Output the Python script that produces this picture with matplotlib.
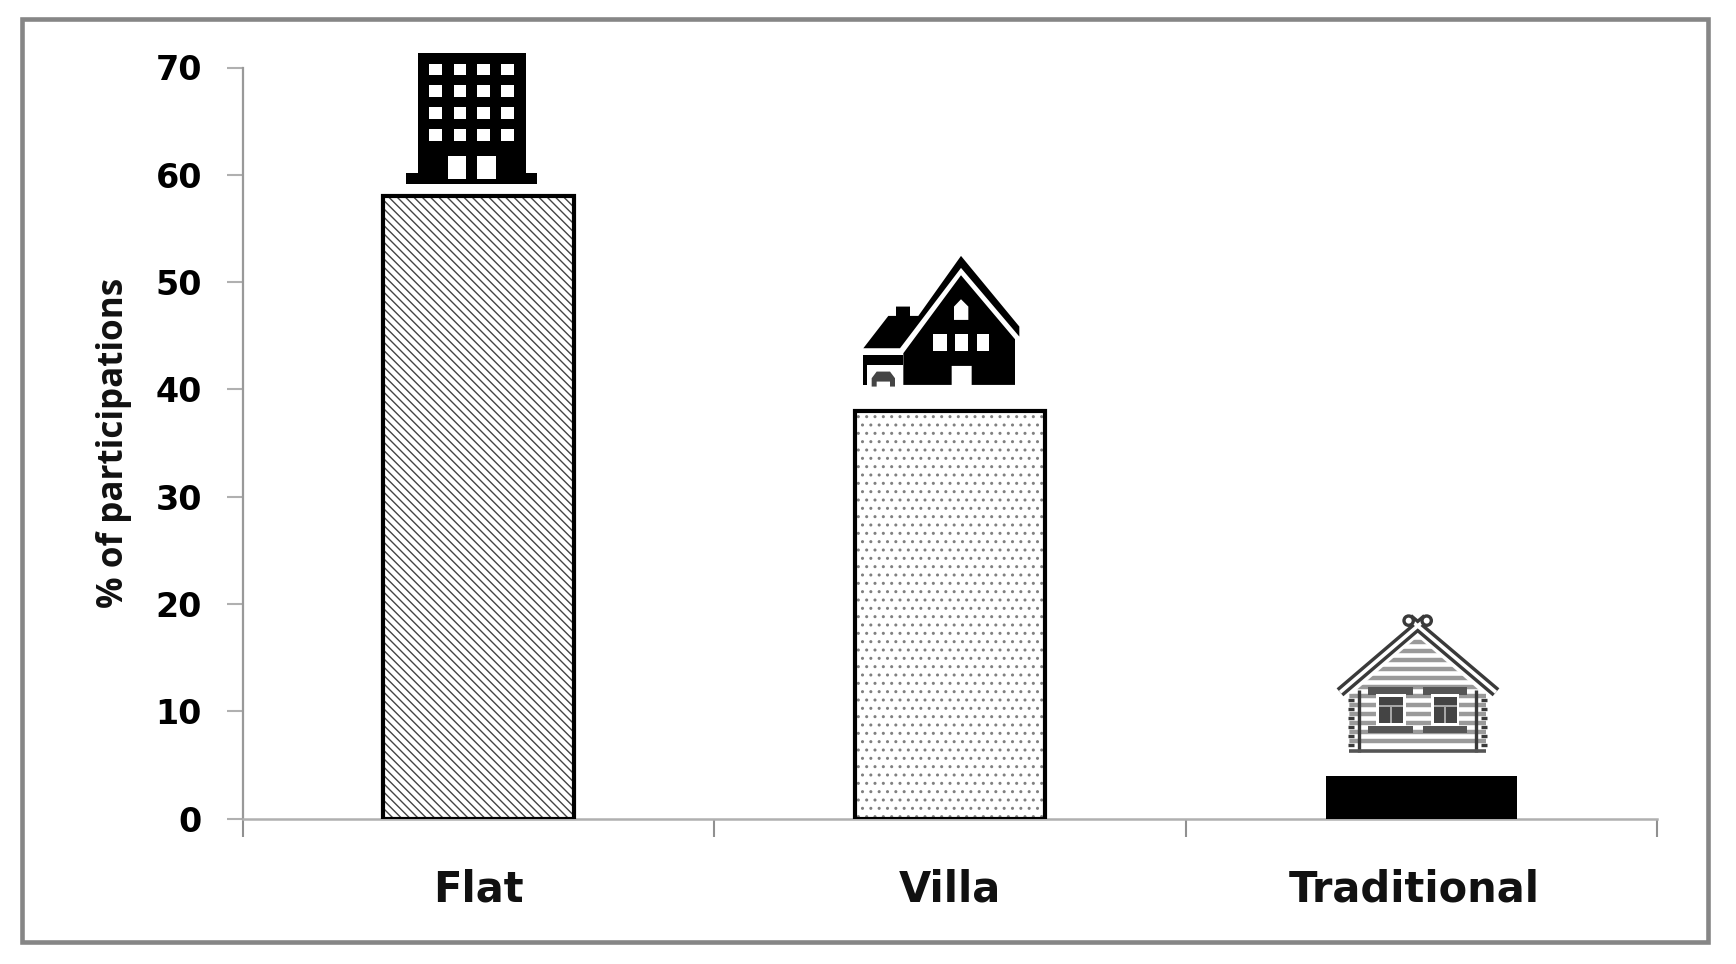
import matplotlib
matplotlib.use("Agg")
import matplotlib.pyplot as plt
from matplotlib.patches import Circle, Polygon, Rectangle
from matplotlib.transforms import Affine2D

categories = ["Flat", "Villa", "Traditional"]
values = [58, 38, 4]
yticks = [0, 10, 20, 30, 40, 50, 60, 70]
ylabel = "% of participations"

W, H = 1736, 964
DARK = "#3a3a3a"
plt.rcParams["hatch.linewidth"] = 1.0

fig = plt.figure(figsize=(W / 100, H / 100), dpi=100, facecolor="white")
ax = fig.add_axes([243 / W, 1 - 818.7 / H, (1657 - 243) / W, (818.7 - 67.5) / H])

# ramka dookola wykresu
fig.add_artist(Rectangle((22 / W, 1 - 942 / H), (1708 - 22) / W, (942 - 19) / H,
                         transform=fig.transFigure, fill=False, ec="#868686", lw=3.3))

x = [0.5, 1.5, 2.5]
ax.bar(x[0], values[0], width=0.405, color="white", edgecolor="#444444", hatch="\\\\\\\\", lw=0, zorder=3)
ax.bar(x[1], values[1], width=0.405, color="white", edgecolor="#808080", hatch="..", lw=0, zorder=3)
ax.bar(x[2], values[2], width=0.405, color="black", lw=0, zorder=3)
ax.bar(x[:2], values[:2], width=0.405, color="none", edgecolor="black", lw=3, zorder=4)

ax.set_xlim(0, 3)
ax.set_ylim(0, 70)
ax.set_yticks(yticks)
ax.set_xticks([0, 1, 2, 3])
ax.set_xticklabels([])
ax.tick_params(axis="y", length=11.5, width=1.5, color="#b0b0b0", pad=18, labelsize=24)
ax.tick_params(axis="x", length=13, width=1.5, color="#909090")
for lab in ax.get_yticklabels():
    lab.set_fontweight("bold")
for s in ["top", "right"]:
    ax.spines[s].set_visible(False)
ax.spines["left"].set_color("#999999")
ax.spines["left"].set_linewidth(1.6)
ax.spines["bottom"].set_color("#b0b0b0")
ax.spines["bottom"].set_linewidth(1.8)

# podpisy kategorii
shift = [0, 0, -5]
for i, c in enumerate(categories):
    ax.annotate(c, (x[i], 0), xytext=(shift[i], -47.5), textcoords="offset points",
                ha="center", va="center_baseline", fontsize=30, fontweight="bold", color="#111111")

fig.text(114 / W, 1 - 443 / H, ylabel, rotation=90, ha="center", va="center",
         fontsize=25.2, fontweight="bold", family="Open Sans", color="#111111")


def icon_tr(i, dx, dy):
    # wspolrzedne z wycinka (3x) -> piksele, zaczepione na szczycie slupka
    px, py = ax.transData.transform((x[i], values[i]))
    return Affine2D().scale(1 / 3, -1 / 3).translate(px + dx, py + dy)


def add_poly(pts, tr, color="black", z=5):
    fig.add_artist(Polygon(pts, closed=True, transform=tr, fc=color, ec="none", zorder=z))


def add_box(x0, x1, y0, y1, tr, color="white", z=6):
    add_poly([(x0, y0), (x1, y0), (x1, y1), (x0, y1)], tr, color, z)


def add_line(xs, ys, tr, color, lw, z=6):
    fig.add_artist(plt.Line2D(xs, ys, transform=tr, color=color, lw=lw, zorder=z, solid_capstyle="butt"))


# blok
tr = icon_tr(0, -108, 166)
add_box(142, 465, 68, 462, tr, "black", 5)
add_box(105, 500, 428, 462, tr, "black", 5)
for wx0, wx1 in [(176, 215), (250, 287), (320, 358), (392, 431)]:
    for wy0, wy1 in [(100, 135), (165, 200), (230, 267), (296, 332)]:
        add_box(wx0, wx1, wy0, wy1, tr)
add_box(232, 287, 378, 447, tr)
add_box(320, 377, 378, 447, tr)

# willa
tr = icon_tr(1, -110, 171)
add_poly([(363, 48), (538, 260), (538, 290), (363, 84), (180, 325), (70, 325), (145, 228),
          (168, 228), (168, 200), (210, 200), (210, 228), (235, 228)], tr)
add_poly([(363, 106), (525, 298), (525, 435), (395, 435), (395, 378), (335, 378), (335, 435),
          (190, 435), (190, 340)], tr)
add_poly([(68, 345), (190, 345), (190, 375), (80, 375), (80, 435), (68, 435)], tr)
add_poly([(342, 240), (342, 200), (363, 178), (385, 200), (385, 240)], tr, "white", 6)
for wx0, wx1 in [(280, 320), (345, 383), (410, 448)]:
    add_box(wx0, wx1, 282, 333, tr)
add_poly([(95, 440), (95, 415), (110, 395), (150, 395), (165, 415), (165, 440), (150, 440),
          (150, 425), (110, 425), (110, 440)], tr, "#444444", 6)

# dom z bali
tr = icon_tr(2, -112, 175.8)
wall = Polygon([(325, 110), (520, 280), (530, 280), (530, 455), (120, 455), (120, 280), (130, 280)],
               closed=True, transform=tr, fc="white", ec="none", zorder=5)
fig.add_artist(wall)
for yy in range(127, 450, 27):
    ln = plt.Line2D([120, 530], [yy, yy], transform=tr, color="#9a9a9a", lw=3.2, zorder=5.5,
                    solid_capstyle="butt")
    fig.add_artist(ln)
    ln.set_clip_path(wall)
for bx in [150, 500]:
    add_line([bx, bx], [270, 455], tr, DARK, 2.4)
for bx in [125, 525]:
    for yy in range(300, 450, 27):
        add_line([bx - 9, bx + 9], [yy, yy], tr, DARK, 2.4)
add_line([120, 530], [452, 452], tr, "#555555", 2.6)
for xa, xb in [(92, 352), (560, 298)]:
    ya, yb = 277, 55
    add_line([xa, xb], [ya, yb], tr, DARK, 7.5, 7)
    add_line([xa, xb], [ya, yb], tr, "white", 2.6, 8)
for cx in [298, 352]:
    fig.add_artist(Circle((cx, 62), 14, transform=tr, fc="white", ec=DARK, lw=2.4, zorder=9))
for wx0, wx1 in [(200, 290), (365, 450)]:
    add_box(wx0 - 25, wx1 + 22, 262, 285, tr, "#555555")
    add_box(wx0 - 25, wx1 + 22, 378, 398, tr, "#555555")
    add_box(wx0, wx1, 283, 378, tr, "white")
    add_box(wx0 + 8, wx1 - 8, 290, 370, tr, "#444444", 7)
    mid = (wx0 + wx1) / 2
    add_line([mid, mid], [320, 370], tr, "#bbbbbb", 1.2, 8)
    add_line([wx0 + 8, wx1 - 8], [318, 318], tr, "#bbbbbb", 1.2, 8)

fig.savefig("out.png", dpi=100)
